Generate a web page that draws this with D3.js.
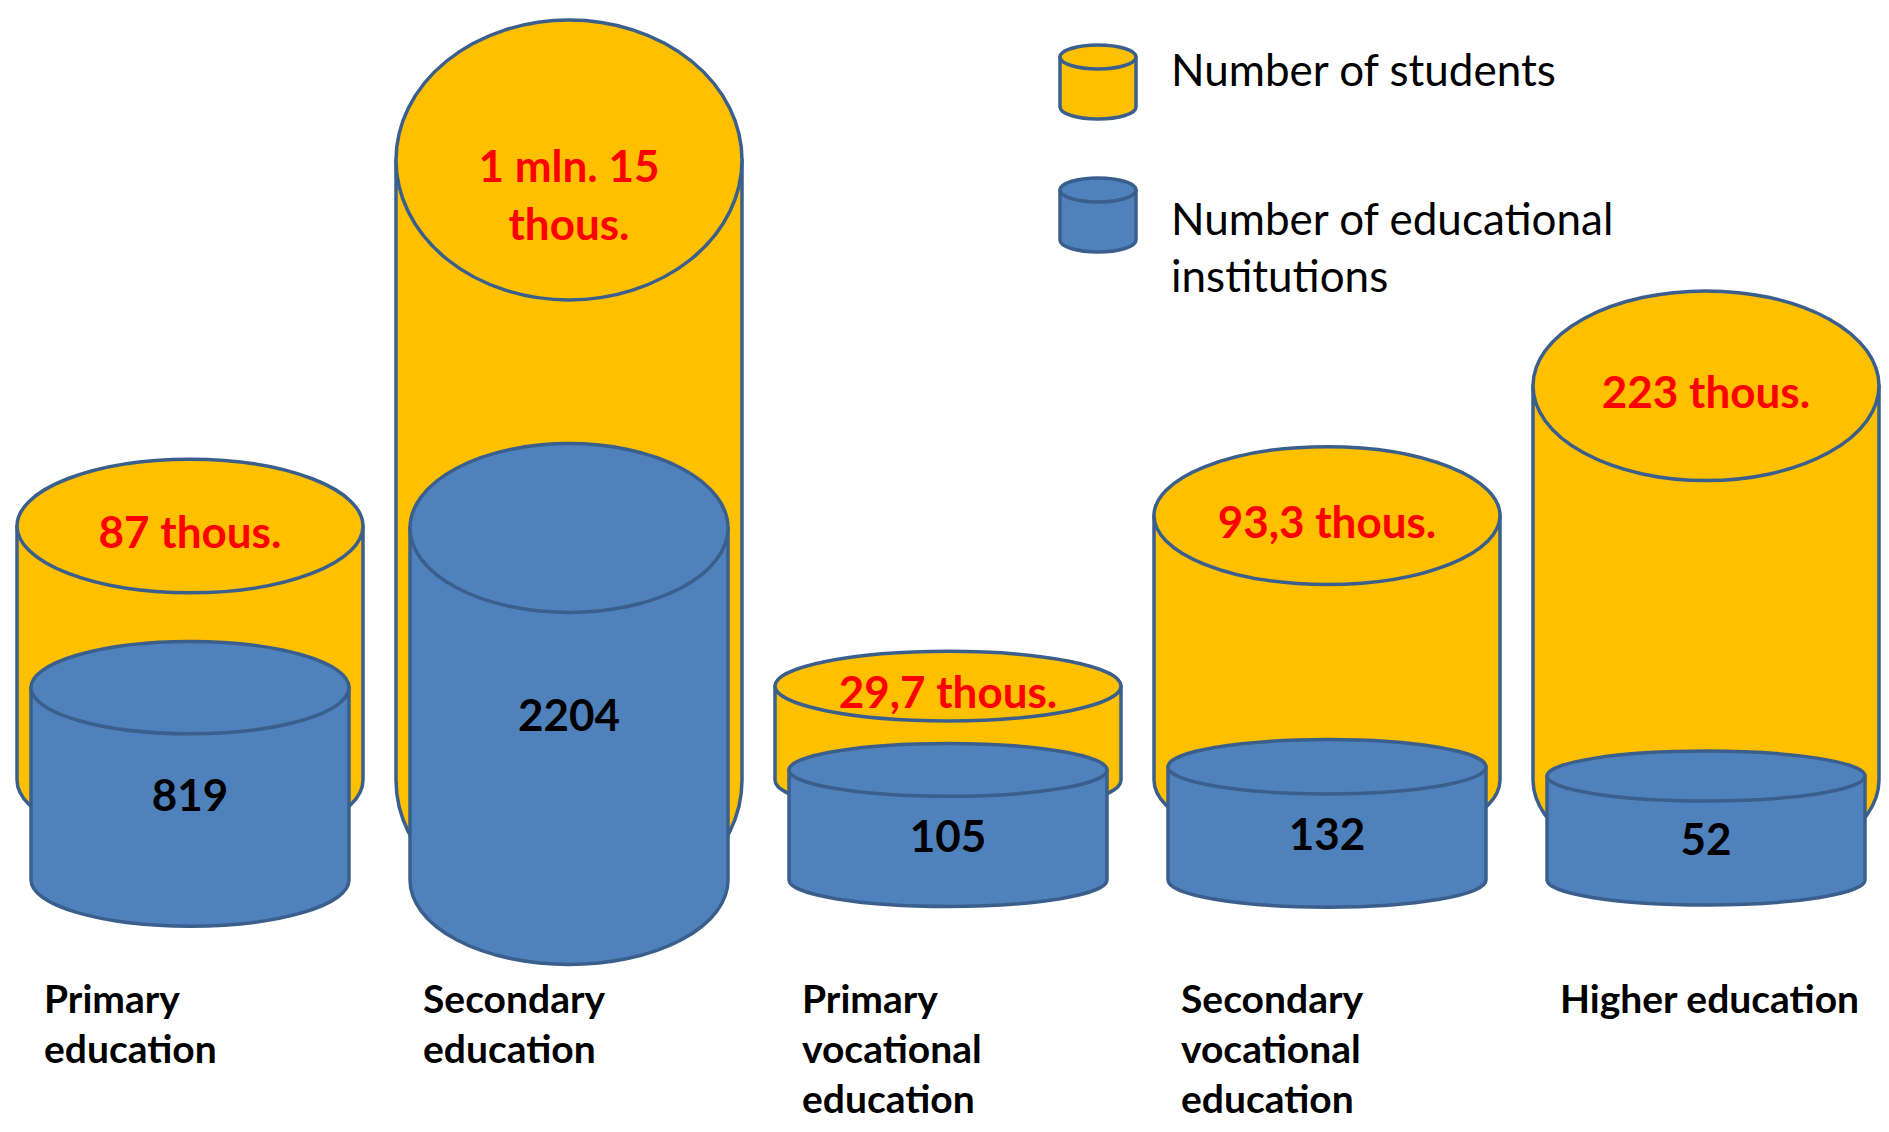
<!DOCTYPE html>
<html>
<head>
<meta charset="utf-8">
<script src="https://cdn.jsdelivr.net/npm/d3@7"></script>
<style>
  html, body { margin: 0; padding: 0; background: #fff; }
  svg { display: block; }
</style>
</head>
<body>
<svg id="chart"></svg>
<script>
const categories = [
  "Primary education",
  "Secondary education",
  "Primary vocational education",
  "Secondary vocational education",
  "Higher education"
];
const categoryLines = [
  ["Primary", "education"],
  ["Secondary", "education"],
  ["Primary", "vocational", "education"],
  ["Secondary", "vocational", "education"],
  ["Higher education"]
];
// thousands of students
const students = [87, 1015, 29.7, 93.3, 223];
const studentLabels = [
  ["87 thous."],
  ["1 mln. 15", "thous."],
  ["29,7 thous."],
  ["93,3 thous."],
  ["223 thous."]
];
const institutions = [819, 2204, 105, 132, 52];
const legendLabels = [
  ["Number of students"],
  ["Number of educational", "institutions"]
];

const width = 1889;
const height = 1132;
const yellow = '#FFC000';
const blue = '#4F81BD';
const outline = '#3A5F8D';
const font = 'Lato, "Open Sans", sans-serif';

const svg = d3.select('#chart')
    .attr('width', width)
    .attr('height', height)
    .attr('viewBox', [0, 0, width, height]);

const x = d3.scalePoint()
    .domain(categories)
    .range([190, 1706]);

// cylinder heights
const hStudents = d3.scaleLog().domain([20, 1015]).range([35, 620]);
const hInst = d3.scaleLinear().domain([0, 2204]).range([98, 352]);

const studentBase = 780;
const instBase = 880;
const yellowW = 346;
const blueW = 318;

function cylinder(g, cx, w, yTop, yBot, ry, fill) {
  const rx = w / 2, x0 = cx - rx, x1 = cx + rx;
  g.append('path')
      .attr('d', `M${x0},${yTop}L${x0},${yBot}A${rx},${ry} 0 0 0 ${x1},${yBot}L${x1},${yTop}Z`)
      .attr('fill', fill)
      .attr('stroke', outline)
      .attr('stroke-width', 3.5)
      .attr('stroke-linejoin', 'round');
  g.append('ellipse')
      .attr('cx', cx)
      .attr('cy', yTop)
      .attr('rx', rx)
      .attr('ry', ry)
      .attr('fill', fill)
      .attr('stroke', outline)
      .attr('stroke-width', 3.5);
}

const groups = svg.append('g')
  .selectAll('g')
  .data(categories.map((c, i) => ({
    name: c, i,
    students: students[i],
    inst: institutions[i]
  })))
  .join('g');

groups.each(function(d) {
  const g = d3.select(this);
  const cx = x(d.name);

  // students
  const hy = hStudents(d.students);
  const ryY = 0.2 * hy + 16;
  const yTopY = studentBase - hy;
  cylinder(g, cx, yellowW, yTopY, studentBase, ryY, yellow);

  // institutions
  const hb = hInst(d.inst);
  const ryB = 0.24 * hb;
  const yTopB = instBase - hb;
  cylinder(g, cx, blueW, yTopB, instBase, ryB, blue);

  g.append('text')
      .attr('x', cx)
      .attr('text-anchor', 'middle')
      .attr('font-family', font)
      .attr('font-weight', 700)
      .attr('font-size', 44)
      .attr('fill', '#FF0000')
    .selectAll('tspan')
    .data(studentLabels[d.i])
    .join('tspan')
      .attr('x', cx)
      .attr('y', (t, j) => yTopY + 5 + j * 58)
      .attr('dominant-baseline', 'central')
      .text(t => t);

  g.append('text')
      .attr('x', cx)
      .attr('y', (yTopB + instBase) / 2 + 10)
      .attr('text-anchor', 'middle')
      .attr('dominant-baseline', 'central')
      .attr('font-family', font)
      .attr('font-weight', 700)
      .attr('font-size', 44)
      .attr('fill', '#000')
      .text(d3.format('d')(d.inst));

  g.append('text')
      .attr('font-family', font)
      .attr('font-weight', 700)
      .attr('font-size', 39)
      .attr('fill', '#000')
    .selectAll('tspan')
    .data(categoryLines[d.i])
    .join('tspan')
      .attr('x', cx - 146)
      .attr('y', (t, j) => 998 + j * 50)
      .attr('dominant-baseline', 'central')
      .text(t => t);
});

// legend
const legend = svg.append('g');
const legendItems = [
  { fill: yellow, top: 45, lines: legendLabels[0], ty: 69 },
  { fill: blue, top: 178, lines: legendLabels[1], ty: 218 }
];
legendItems.forEach(item => {
  const ry = 12;
  cylinder(legend, 1098, 76, item.top + ry, item.top + 74 - ry, ry, item.fill);
  legend.append('text')
      .attr('font-family', font)
      .attr('font-size', 44)
      .attr('fill', '#000')
    .selectAll('tspan')
    .data(item.lines)
    .join('tspan')
      .attr('x', 1171)
      .attr('y', (t, j) => item.ty + j * 57)
      .attr('dominant-baseline', 'central')
      .text(t => t);
});
</script>
</body>
</html>
